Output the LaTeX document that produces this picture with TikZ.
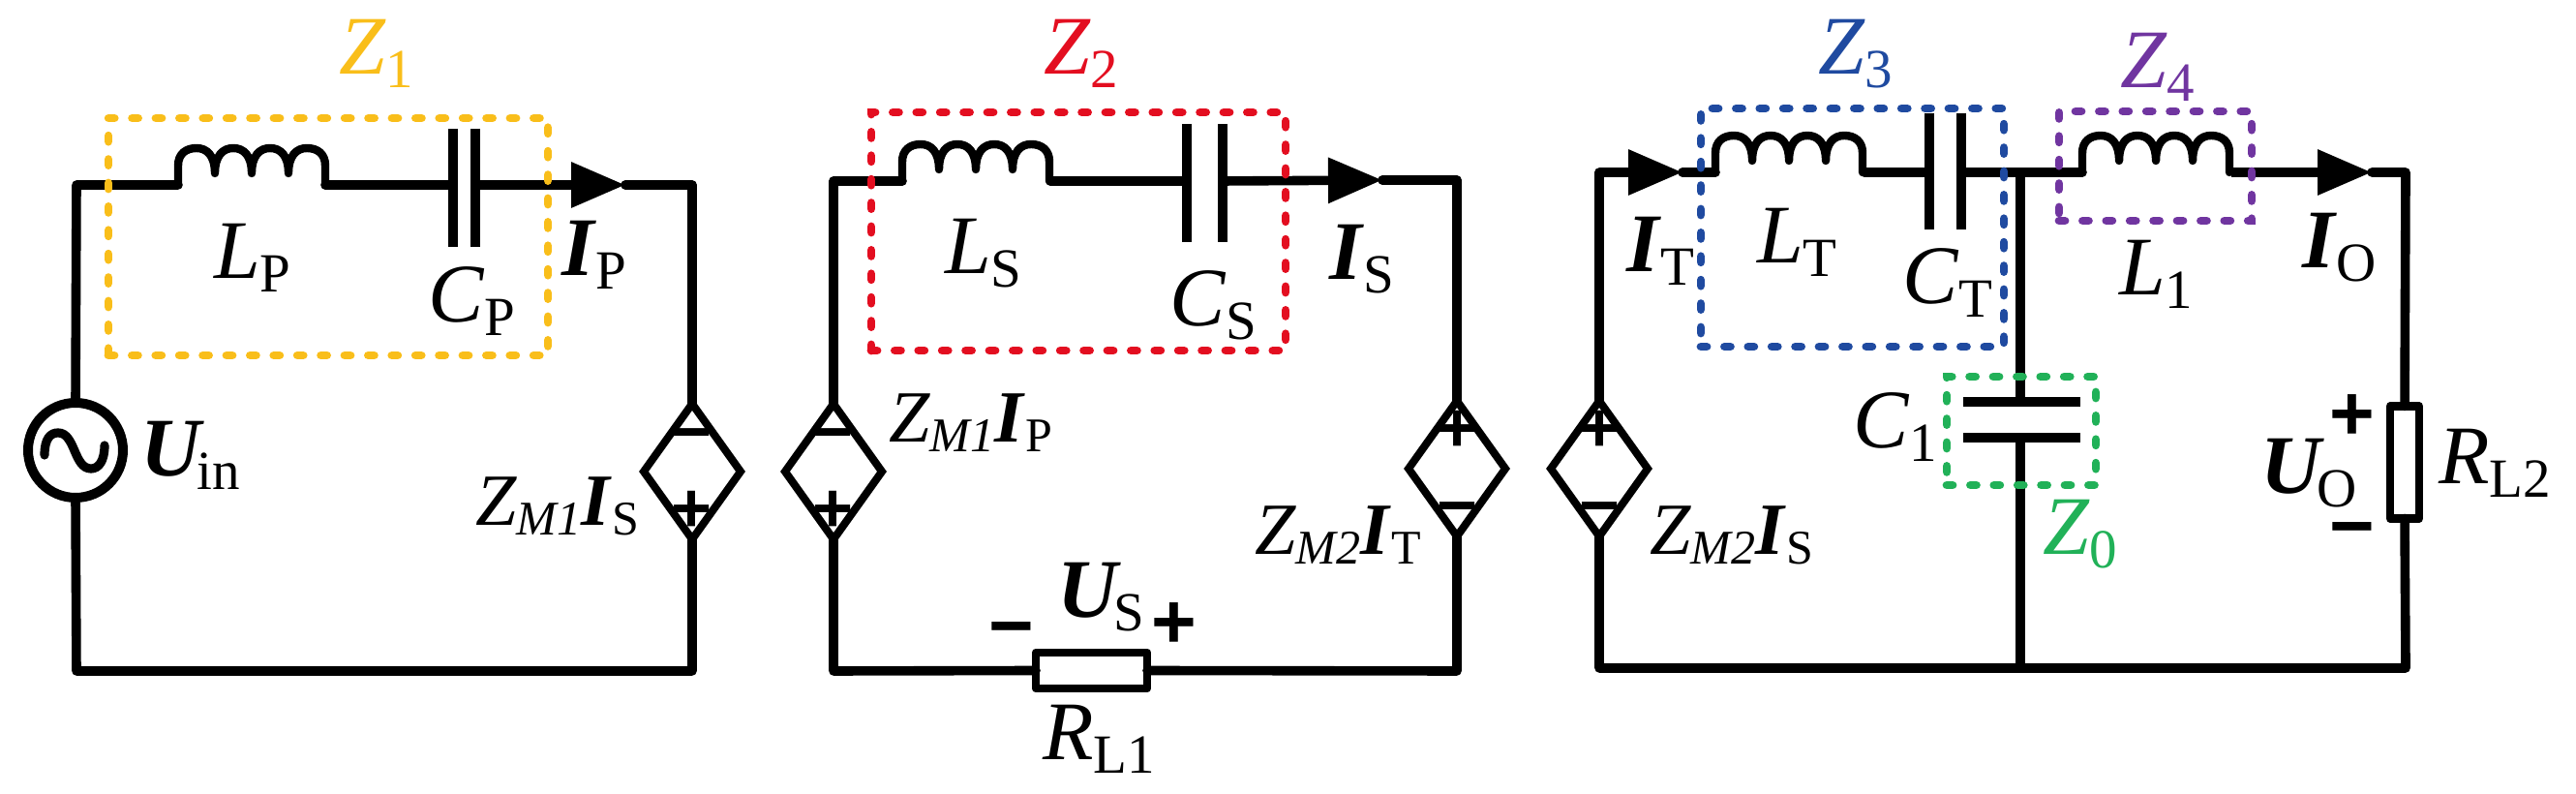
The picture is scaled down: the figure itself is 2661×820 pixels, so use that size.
\documentclass[tikz,border=0pt]{standalone}
\usepackage{fontspec}
\setmainfont{Liberation Serif}
\newfontfamily\signfont{Liberation Sans}
\usetikzlibrary{arrows.meta,fit,shapes.geometric}
\definecolor{zyellow}{HTML}{F9BE1A}
\definecolor{zred}{HTML}{E30E20}
\definecolor{zblue}{HTML}{1F4AA0}
\definecolor{zpurple}{HTML}{7035A0}
\definecolor{zgreen}{HTML}{21B158}
\newcommand\subA[1]{\raisebox{-3.5pt}{\fontsize{14.25}{14.25}\selectfont\upshape #1}}
\newcommand\subB[1]{\raisebox{-2.5pt}{\fontsize{12.5}{12.5}\selectfont\upshape #1}}
\newcommand\subC[1]{\raisebox{-2.5pt}{\fontsize{12.5}{12.5}\selectfont\itshape #1}}
\newcommand\var[2]{\textit{#1}\subA{#2}}
\newcommand\bvar[2]{\textbf{\textit{#1}}\subA{#2}}
\newcommand\uvar[1]{\textbf{\textit{U}}\kern-1.8pt\subA{#1}}
\newcommand\zmi[3]{\textit{Z}\subC{M#1}\textbf{\textit{I}}\subB{#2}#3}
\tikzset{
  wire/.style={line width=2.4pt,line cap=round,line join=round},
  plate/.style={line width=2.3pt},
  plateh/.style={line width=2.5pt},
  flow/.style={wire,line cap=butt,-{Triangle[length=14pt,width=11.25pt]}},
  lbl/.style={anchor=base west,inner sep=0pt,outer sep=0pt,font=\fontsize{21.5}{24}\selectfont},
  slbl/.style={anchor=base west,inner sep=0pt,outer sep=0pt,font=\fontsize{19}{22}\selectfont},
  bigsign/.style={anchor=base,inner sep=0pt,outer sep=0pt,yshift=-6.8pt,font=\signfont\bfseries\fontsize{20}{20}\selectfont},
  smallsign/.style={anchor=base,inner sep=0pt,outer sep=0pt,yshift=-5.8pt,font=\signfont\bfseries\fontsize{18}{18}\selectfont},
  vccs/.style={draw,diamond,line width=2pt,minimum width=25pt,minimum height=35pt,inner sep=0pt,outer sep=0pt},
  source/.style={draw,circle,line width=2.5pt,minimum size=24.5pt,inner sep=0pt,outer sep=0pt},
  load/.style={draw,rectangle,line width=2.2pt,inner sep=0pt,outer sep=0pt,line join=round},
  zbox/.style={draw=#1,rectangle,line width=2.2pt,line cap=round,dash pattern=on 1.5pt off 4.6pt,inner sep=0pt,outer sep=0pt},
  coil/.pic={\draw[wire,line width=2.1pt] (0,0) -- (0,-20)
    .. controls (0,-32) and (8,-38) .. (19,-38) .. controls (30,-38) and (38,-30) .. (38,-12)
    .. controls (38,-30) and (46,-38) .. (57,-38) .. controls (68,-38) and (76,-30) .. (76,-12)
    .. controls (76,-30) and (84,-38) .. (95,-38) .. controls (106,-38) and (114,-30) .. (114,-12)
    .. controls (114,-30) and (122,-38) .. (133,-38) .. controls (144,-38) and (152,-32) .. (152,-20) -- (152,0);}
}
\begin{document}
\begin{tikzpicture}[x=0.25pt,y=-0.25pt]
\path[use as bounding box] (0,0) rectangle (2661,820);
% circuit 1
\node[source] (s1) at (78,465) {};
\node[vccs] (d1) at (715,487) {};
\node[vccs] (d2) at (861,487) {};
\node[vccs] (d3) at (1505,484) {};
\node[vccs] (d4) at (1652,484) {};
\node[load,minimum width=28.75pt,minimum height=9.25pt] (r1) at (1127.5,692.5) {};
\node[load,minimum width=7.5pt,minimum height=29pt] (r2) at (2484,477.5) {};
\coordinate (tl1) at (79,191); \coordinate (tr1) at (715,191);
\coordinate (bl1) at (79,693); \coordinate (br1) at (715,693);
\coordinate (l1a) at (184,191); \coordinate (l1b) at (336,191);
\coordinate (c1a) at (468,191); \coordinate (c1b) at (491,191);
\coordinate (tip1) at (646,191);
\coordinate (c1at) at (468,133); \coordinate (c1ab) at (468,255);
\coordinate (c1bt) at (491,133); \coordinate (c1bb) at (491,255);
\draw[wire] (s1.north) -- (tl1) -- (l1a);
\path (l1a) pic {coil};
\draw[wire] (l1b) -- (c1a);
\draw[plate] (c1at) -- (c1ab); \draw[plate] (c1bt) -- (c1bb);
\draw[flow] (c1b) -- (tip1);
\draw[wire] (tip1) -- (tr1) -- (d1.north);
\draw[wire] (d1.south) -- (br1) -- (bl1) -- (s1.south);
\draw[line width=2.3pt,line cap=round] (46,470) .. controls (46,453) and (52,447) .. (60,447)
  .. controls (78,447) and (76,484) .. (94,484) .. controls (102,484) and (108,476) .. (108,460);
% circuit 2
\coordinate (tl2) at (861,187); \coordinate (tr2) at (1505,186);
\coordinate (bl2) at (861,693); \coordinate (br2) at (1505,693);
\coordinate (l2a) at (932,187); \coordinate (l2b) at (1085,187);
\coordinate (c2a) at (1226,187); \coordinate (c2b) at (1263,187);
\coordinate (tip2) at (1428,186);
\coordinate (c2at) at (1226,128); \coordinate (c2ab) at (1226,250);
\coordinate (c2bt) at (1263,128); \coordinate (c2bb) at (1263,250);
\draw[wire] (d2.north) -- (tl2) -- (l2a);
\path (l2a) pic {coil};
\draw[wire] (l2b) -- (c2a);
\draw[plate] (c2at) -- (c2ab); \draw[plate] (c2bt) -- (c2bb);
\draw[flow] (c2b) -- (tip2);
\draw[wire] (tip2) -- (tr2) -- (d3.north);
\draw[wire] (d3.south) -- (br2) -- (r1.east);
\draw[wire] (r1.west) -- (bl2) -- (d2.south);
% circuit 3
\coordinate (tl3) at (1652,178); \coordinate (tip3) at (1738,178);
\coordinate (l3a) at (1772,178); \coordinate (l3b) at (1926,178);
\coordinate (c3a) at (1993,178); \coordinate (c3b) at (2026,178);
\coordinate (c3at) at (1993,117); \coordinate (c3ab) at (1993,237);
\coordinate (c3bt) at (2026,117); \coordinate (c3bb) at (2026,237);
\coordinate (jt) at (2087,178); \coordinate (jb) at (2087,690);
\coordinate (l4a) at (2151,178); \coordinate (l4b) at (2305,178);
\coordinate (tip4) at (2450,178); \coordinate (tr3) at (2485,178);
\coordinate (br3) at (2485,690); \coordinate (bl3) at (1652,690);
\coordinate (c4a) at (2087,415); \coordinate (c4b) at (2087,452);
\coordinate (c4al) at (2028,415); \coordinate (c4ar) at (2149,415);
\coordinate (c4bl) at (2028,452); \coordinate (c4br) at (2149,452);
\draw[wire] (d4.north) -- (tl3);
\draw[flow] (tl3) -- (tip3);
\draw[wire] (tip3) -- (l3a);
\path (l3a) pic {coil};
\draw[wire] (l3b) -- (c3a);
\draw[plate] (c3at) -- (c3ab); \draw[plate] (c3bt) -- (c3bb);
\draw[wire] (c3b) -- (jt) -- (l4a);
\path (l4a) pic {coil};
\draw[flow] (l4b) -- (tip4);
\draw[wire] (tip4) -- (tr3) -- (r2.north);
\draw[wire] (r2.south) -- (br3) -- (bl3) -- (d4.south);
\draw[wire] (jt) -- (c4a);
\draw[wire] (c4b) -- (jb);
\draw[plateh] (c4al) -- (c4ar); \draw[plateh] (c4bl) -- (c4br);
% polarity signs
\node[smallsign] (m1) at (715,447) {−}; \node[smallsign] (p1) at (715,526) {+};
\node[smallsign] (m2) at (861,447) {−}; \node[smallsign] (p2) at (861,526) {+};
\node[smallsign] (p3) at (1505,443) {+}; \node[smallsign] (m3) at (1505,523) {−};
\node[smallsign] (p4) at (1652,443) {+}; \node[smallsign] (m4) at (1652,523) {−};
\node[bigsign] (mus) at (1045,646) {−}; \node[bigsign] (pus) at (1213,642) {+};
\node[bigsign] (puo) at (2430,427) {+}; \node[bigsign] (muo) at (2430,543) {−};
% dashed impedance boxes
\coordinate (ya) at (112,122); \coordinate (yb) at (566,367);
\coordinate (ra) at (900,116); \coordinate (rb) at (1328,362);
\coordinate (ba) at (1757,112); \coordinate (bb) at (2070,358);
\coordinate (pa) at (2127,115); \coordinate (pb) at (2326,228);
\coordinate (ga) at (2011,389); \coordinate (gb) at (2165,501);
\node[zbox=zyellow,fit=(ya)(yb)] (z1box) {};
\node[zbox=zred,fit=(ra)(rb)] (z2box) {};
\node[zbox=zblue,fit=(ba)(bb)] (z3box) {};
\node[zbox=zpurple,fit=(pa)(pb)] (z4box) {};
\node[zbox=zgreen,fit=(ga)(gb)] (z0box) {};
% labels
\node[lbl,text=zyellow] (z1) at (350,77) {\var{Z}{1}};
\node[lbl,text=zred] (z2) at (1078,77) {\var{Z}{2}};
\node[lbl,text=zblue] (z3) at (1878,77) {\var{Z}{3}};
\node[lbl,text=zpurple] (z4) at (2190,91) {\var{Z}{4}};
\node[lbl,text=zgreen] (z0) at (2110,573) {\var{Z}{0}};
\node[lbl] (lp) at (221,288) {\var{L}{P}};
\node[lbl] (cp) at (442,333) {\var{C}{P}};
\node[lbl] (ip) at (580,285) {\bvar{I}{P}};
\node[lbl] (uin) at (145,492) {\uvar{in}};
\node[lbl] (ls) at (976,283) {\var{L}{S}};
\node[lbl] (cs) at (1208,337) {\var{C}{S}};
\node[lbl] (is) at (1373,289) {\bvar{I}{S}};
\node[lbl] (it) at (1680,281) {\bvar{I}{T}};
\node[lbl] (lt) at (1815,272) {\var{L}{T}};
\node[lbl] (ct) at (1965,314) {\var{C}{T}};
\node[lbl] (l1) at (2189,305) {\var{L}{1}};
\node[lbl] (io) at (2378,277) {\bvar{I}{O}};
\node[lbl] (c1) at (1914,463) {\var{C}{1}};
\node[lbl] (uo) at (2335,510) {\uvar{O}};
\node[lbl] (rl2) at (2519,500) {\var{R}{L2}};
\node[lbl] (us) at (1092,638) {\uvar{S}};
\node[lbl] (rl1) at (1077,785) {\var{R}{L1}};
\node[slbl] (zm1s) at (491,543) {\zmi{1}{S}{}};
\node[slbl] (zm1p) at (918,457) {\zmi{1}{P}{}};
\node[slbl] (zm2t) at (1296,573) {\zmi{2}{T}{}};
\node[slbl] (zm2s) at (1704,573) {\zmi{2}{S}{}};
\end{tikzpicture}
\end{document}
